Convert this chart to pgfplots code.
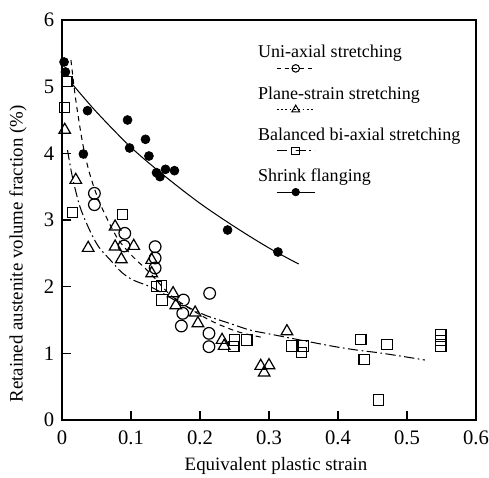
\documentclass[border=0pt]{standalone}
\usepackage{fontspec}
\setmainfont{Liberation Serif}
\usepackage{pgfplots}
\pgfplotsset{compat=1.18}

\begin{document}
\begin{tikzpicture}
\useasboundingbox (-1.268,-1.166) rectangle (8.736,8.593);
\begin{axis}[
  scale only axis, width=8.47cm, height=8.184cm,
  xmin=0, xmax=0.6, ymin=0, ymax=6,
  xtick={0,0.1,0.2,0.3,0.4,0.5,0.6}, xticklabels={0,0.1,0.2,0.3,0.4,0.5,0.6},
  ytick={0,1,2,3,4,5,6}, yticklabels={0,1,2,3,4,5,6},
  tick align=inside, xtick pos=bottom, ytick pos=left,
  major tick length=5pt,
  axis line style={line width=0.8pt},
  tick style={line width=0.7pt, black},
  tick label style={font=\fontsize{12}{14}\selectfont},
  xticklabel style={yshift=-3pt},
  yticklabel style={xshift=-1pt},
  xlabel={Equivalent plastic strain},
  ylabel={Retained austenite volume fraction (\%)},
  label style={font=\fontsize{11}{13}\selectfont},
  xlabel style={at={(axis description cs:0.517,-0.115)}, anchor=center},
  ylabel style={at={(axis description cs:-0.106,0.415)}, anchor=center},
  legend style={draw=none, fill=none, inner sep=0pt, at={(axis cs:0.281,5.65)},
    anchor=north west, font=\fontsize{10.5}{12.6}\selectfont,
    row sep=13.2pt, column sep=0pt, nodes={inner sep=1pt}},
  legend cell align=left,
  legend image code/.code={\path[draw=none, fill=none] (0pt,0pt) rectangle (0.1pt,0.1pt);
    \draw[mark repeat=2, mark phase=2, overlay, #1] plot coordinates {(12pt,-9pt)(23pt,-9pt)(34pt,-9pt)};},
]
% fitted curves
\addplot[black, line width=0.6pt, smooth, dash pattern=on 3pt off 2.5pt, forget plot] coordinates {
 (0.013,5.4) (0.02,4.8) (0.03,4.15) (0.04,3.7) (0.055,3.25) (0.079,2.75) (0.1,2.48)
 (0.128,2.2) (0.16,1.85) (0.21,1.52) (0.253,1.33) (0.29,1.24)};
\addplot[black, line width=0.6pt, smooth, dash pattern=on 6pt off 2pt on 1pt off 2pt, forget plot] coordinates {
 (0.008,4.05) (0.015,3.65) (0.026,3.2) (0.04,2.85) (0.053,2.6) (0.07,2.4) (0.086,2.22)
 (0.103,2.1) (0.132,1.98) (0.17,1.76) (0.207,1.575) (0.243,1.45) (0.272,1.35) (0.301,1.29)
 (0.36,1.17) (0.396,1.1) (0.427,1.05) (0.458,1.01) (0.487,0.965) (0.526,0.9)};
\addplot[black, line width=0.6pt, smooth, forget plot] coordinates {
 (0.014,5.05) (0.05,4.62) (0.1,4.09) (0.15,3.65) (0.2,3.25) (0.25,2.9) (0.3,2.58) (0.343,2.34)};
% uni-axial stretching
\addplot[only marks, black, mark=o, mark size=3.4pt, line width=0.7pt, forget plot] coordinates {
 (0.047,3.4) (0.047,3.23) (0.091,2.8) (0.09,2.61) (0.135,2.6) (0.135,2.43) (0.135,2.28)
 (0.176,1.8) (0.175,1.6) (0.173,1.41) (0.214,1.9) (0.213,1.3) (0.213,1.1)};
% plane-strain stretching
\addplot[only marks, black, mark=triangle, mark size=3.9pt, line width=0.7pt, forget plot] coordinates {
 (0.004,4.35) (0.02,3.6) (0.038,2.58) (0.077,2.9) (0.077,2.6) (0.104,2.61) (0.086,2.41)
 (0.13,2.4) (0.13,2.2) (0.161,1.9) (0.165,1.72) (0.193,1.61) (0.197,1.45) (0.232,1.2)
 (0.235,1.11) (0.326,1.33) (0.288,0.81) (0.3,0.82) (0.293,0.71)};
% balanced bi-axial stretching
\addplot[only marks, black, mark=square, mark size=3pt, line width=0.7pt, forget plot] coordinates {
 (0.007,5.08) (0.004,4.69) (0.015,3.11) (0.088,3.08) (0.137,2.0) (0.144,2.01) (0.145,1.8)
 (0.25,1.2) (0.249,1.1) (0.268,1.2) (0.333,1.11) (0.35,1.11) (0.347,1.01) (0.433,1.21)
 (0.438,0.91) (0.471,1.13) (0.459,0.3) (0.549,1.28) (0.549,1.19) (0.549,1.1)};
% shrink flanging
\addplot[only marks, black, mark=*, mark size=2.6pt, forget plot] coordinates {
 (0.003,5.37) (0.005,5.22) (0.037,4.64) (0.031,3.99) (0.095,4.5) (0.098,4.08) (0.121,4.21)
 (0.126,3.96) (0.137,3.71) (0.142,3.65) (0.150,3.76) (0.163,3.74) (0.240,2.85) (0.313,2.52)};
% legend
\addlegendimage{black, line width=0.6pt, dash pattern=on 2.5pt off 2pt, mark=o, mark size=2.2pt, mark options={solid}}
\addlegendentry{Uni-axial stretching}
\addlegendimage{black, line width=0.6pt, dash pattern=on 1pt off 1.5pt, mark=triangle, mark size=2.6pt, mark options={solid}}
\addlegendentry{Plane-strain stretching}
\addlegendimage{black, line width=0.6pt, dash pattern=on 6pt off 2pt on 1pt off 2pt, mark=square, mark size=2.2pt, mark options={solid}}
\addlegendentry{Balanced bi-axial stretching}
\addlegendimage{black, line width=0.4pt, mark=*, mark size=2.2pt}
\addlegendentry{Shrink flanging}
\end{axis}
\end{tikzpicture}
\end{document}
